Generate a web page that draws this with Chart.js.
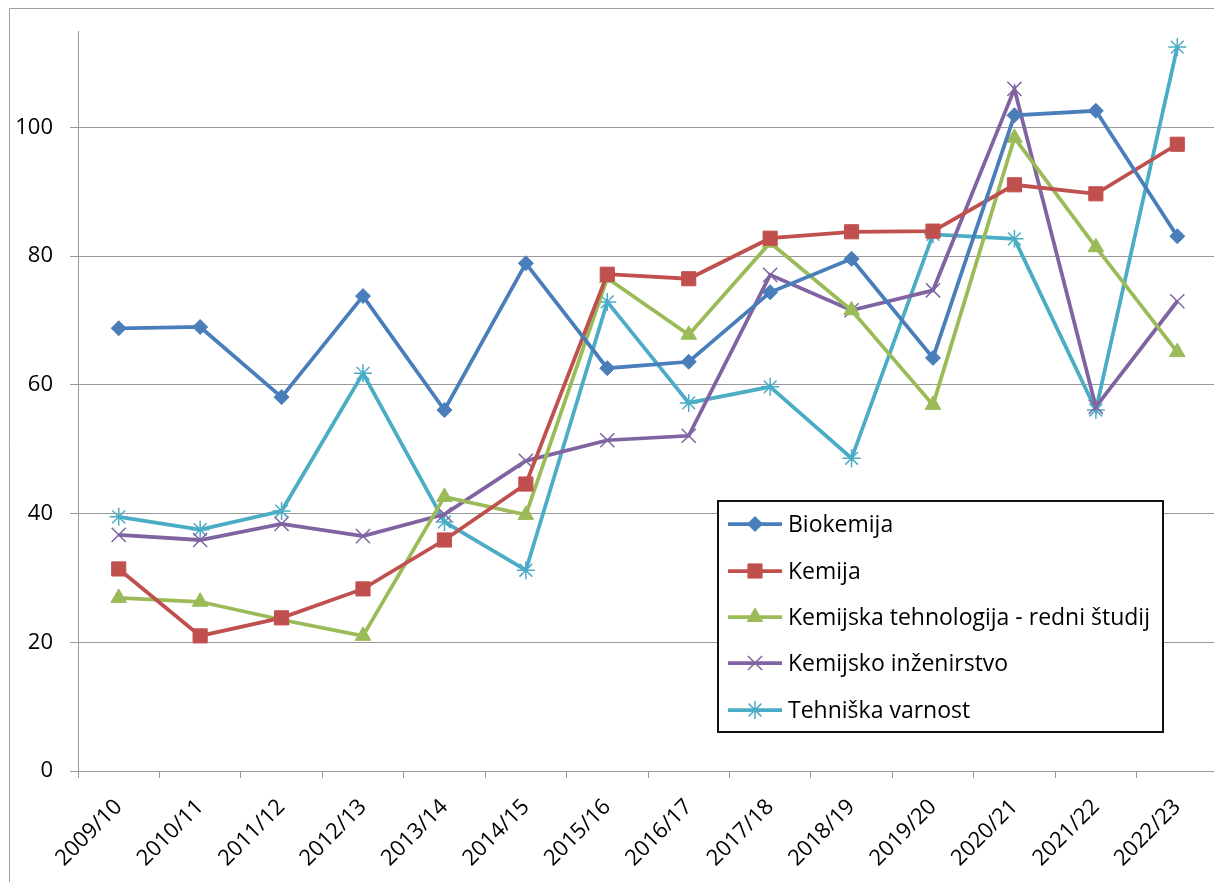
<!DOCTYPE html>
<html>
<head>
<meta charset="utf-8">
<script src="https://cdn.jsdelivr.net/npm/chart.js@4.4.0/dist/chart.umd.min.js"></script>
<style>
html,body{margin:0;padding:0;background:#fff;overflow:hidden;}
#wrap{position:absolute;left:0;top:0;width:1240px;height:882px;}
</style>
</head>
<body>
<div id="wrap"><canvas id="c"></canvas></div>
<script>
const categories = ["2009/10","2010/11","2011/12","2012/13","2013/14","2014/15","2015/16","2016/17","2017/18","2018/19","2019/20","2020/21","2021/22","2022/23"];
const biokemija = [68.8,69.0,58.1,73.8,56.1,78.9,62.6,63.6,74.4,79.6,64.2,101.9,102.6,83.1];
const kemija = [31.4,21.0,23.8,28.3,35.9,44.6,77.2,76.5,82.8,83.8,83.9,91.1,89.7,97.4];
const kemTehnologija = [26.9,26.3,23.5,21.0,42.6,39.8,76.6,67.8,82.1,71.6,56.9,98.4,81.4,65.1];
const kemInzenirstvo = [36.7,35.9,38.4,36.5,39.9,48.2,51.4,52.1,77.1,71.6,74.7,106.0,56.6,73.0];
const tehVarnost = [39.5,37.5,40.4,61.8,38.7,31.2,72.9,57.2,59.7,48.6,83.4,82.7,56.1,112.5];
const seriesNames = ["Biokemija","Kemija","Kemijska tehnologija - redni študij","Kemijsko inženirstvo","Tehniška varnost"];
const yTicks = [0,20,40,60,80,100];

const FONT = "'Open Sans', sans-serif";

function ds(label, data, color, style, radius, bw) {
  return {
    label, data,
    borderColor: color, backgroundColor: color,
    pointBackgroundColor: color, pointBorderColor: color,
    pointStyle: style, pointRadius: radius, pointHoverRadius: radius,
    pointBorderWidth: bw, borderWidth: 3.75, tension: 0
  };
}

const datasets = [
  ds(seriesNames[0], biokemija, "#4A7EBB", "rectRot", 7.5, 1),
  ds(seriesNames[1], kemija, "#C0504D", "rect", 10, 1),
  ds(seriesNames[2], kemTehnologija, "#9BBB59", "triangle", 9, 1),
  ds(seriesNames[3], kemInzenirstvo, "#8064A2", "crossRot", 10, 1.5),
  ds(seriesNames[4], tehVarnost, "#4BACC6", "star", 9, 1.5)
];

const framePlugin = {
  id: "frame",
  beforeDraw(chart) {
    const ctx = chart.ctx;
    ctx.save();
    ctx.fillStyle = "#fff";
    ctx.fillRect(0, 0, chart.width, chart.height);
    ctx.strokeStyle = "#a0a0a0";
    ctx.lineWidth = 1;
    ctx.beginPath();
    ctx.moveTo(9.5, 900);
    ctx.lineTo(9.5, 8.5);
    ctx.lineTo(1300, 8.5);
    ctx.stroke();
    ctx.restore();
  }
};

const legendPlugin = {
  id: "boxLegend",
  afterDraw(chart) {
    const ctx = chart.ctx;
    ctx.save();
    const x0 = 718, y0 = 501, x1 = 1163, y1 = 732;
    ctx.fillStyle = "#fff";
    ctx.fillRect(x0, y0, x1 - x0, y1 - y0);
    ctx.strokeStyle = "#111";
    ctx.lineWidth = 2;
    ctx.strokeRect(x0, y0, x1 - x0, y1 - y0);
    const rows = [524, 571, 617, 663, 710];
    chart.data.datasets.forEach((d, i) => {
      const y = rows[i];
      ctx.strokeStyle = d.borderColor;
      ctx.lineWidth = 3.75;
      ctx.beginPath();
      ctx.moveTo(728, y);
      ctx.lineTo(782, y);
      ctx.stroke();
      ctx.fillStyle = d.pointBackgroundColor;
      ctx.strokeStyle = d.pointBorderColor;
      ctx.lineWidth = d.pointBorderWidth;
      Chart.helpers.drawPoint(ctx, {pointStyle: d.pointStyle, radius: d.pointRadius, borderWidth: d.pointBorderWidth, rotation: 0}, 755, y);
      ctx.fillStyle = "#000";
      ctx.font = "23px " + FONT;
      ctx.textBaseline = "middle";
      ctx.textAlign = "left";
      ctx.fillText(d.label, 788, y + 1);
    });
    ctx.restore();
  }
};

new Chart(document.getElementById("c"), {
  type: "line",
  data: { labels: categories, datasets },
  plugins: [framePlugin, legendPlugin],
  options: {
    responsive: true,
    maintainAspectRatio: false,
    animation: false,
    events: [],
    layout: { padding: { left: 0, top: 31, right: 22, bottom: 0 } },
    plugins: { legend: { display: false }, tooltip: { enabled: false } },
    scales: {
      x: {
        offset: true,
        grid: { offset: true, drawOnChartArea: false, drawTicks: true, tickLength: 7, color: "#999", lineWidth: 1 },
        border: { color: "#999", width: 1 },
        ticks: { color: "#000", font: { family: FONT, size: 22 }, maxRotation: 45, minRotation: 45, autoSkip: false, padding: 16 },
        afterFit(s) { s.height = 111; }
      },
      y: {
        min: 0, max: 115,
        afterBuildTicks(s) { s.ticks = yTicks.map(v => ({ value: v })); },
        grid: { color: "#999", lineWidth: 1, tickLength: 8, drawTicks: true },
        border: { color: "#999", width: 1 },
        ticks: { color: "#000", font: { family: FONT, size: 22 }, padding: 17 },
        afterFit(s) { s.width = 78; }
      }
    }
  }
});
</script>
</body>
</html>
